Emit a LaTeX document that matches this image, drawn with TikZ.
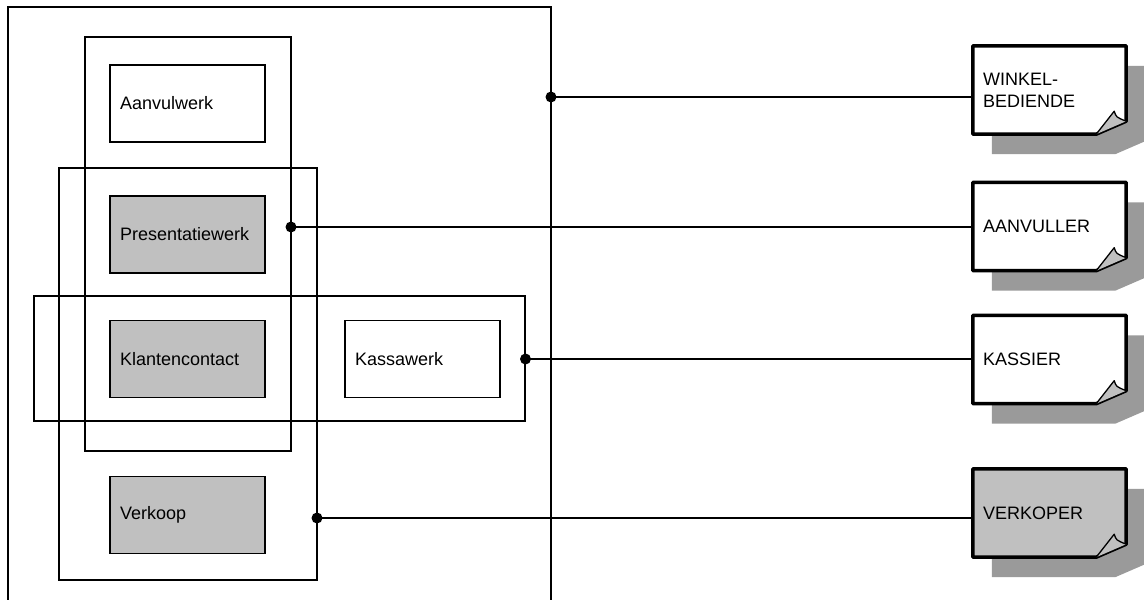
\documentclass[tikz,border=0pt]{standalone}
\usepackage{fontspec}
\setmainfont{Liberation Sans}
\usepackage{tikz}
\definecolor{taakgrijs}{HTML}{C0C0C0}
\definecolor{schaduw}{HTML}{9A9A9A}

\tikzset{
  taak/.style={draw, line width=1.3pt, minimum height=77pt, text width=135pt,
    inner xsep=10pt, align=left, font=\fontsize{18}{22}\selectfont},
  rol/.style={minimum height=88pt, text width=133pt, inner xsep=10pt,
    align=left, font=\fontsize{18}{22}\selectfont},
  groep/.style={draw, line width=1.3pt},
  lijn/.style={draw, line width=1.3pt}
}

\begin{document}
\begin{tikzpicture}[x=1pt,y=-1pt]
\useasboundingbox (0,0) rectangle (1144,600);

% groepen
\draw[groep] (8,602) -- (8,7) -- (551,7) -- (551,602);
\draw[groep] (85,37) rectangle (291,451);
\draw[groep] (59,168) rectangle (317,580);
\draw[groep] (34,296) rectangle (525,421);

% taken
\node[taak] (aanvul) at (187.5,103.5) {Aanvulwerk};
\node[taak,fill=taakgrijs] (presentatie) at (187.5,234.5) {Presentatiewerk};
\node[taak,fill=taakgrijs] (klant) at (187.5,359) {Klantencontact};
\node[taak] (kassa) at (422.5,359) {Kassawerk};
\node[taak,fill=taakgrijs] (verkoop) at (187.5,515) {Verkoop};

% rollen
\node[rol] (winkel) at (1049.5,90) {};
\node[rol] (aanvuller) at (1049.5,226.5) {};
\node[rol] (kassier) at (1049.5,359.5) {};
\node[rol] (verkoper) at (1049.5,513) {};

% schaduw
\foreach \n in {winkel,aanvuller,kassier,verkoper}
  \fill[schaduw,transform canvas={shift={(19pt,-20pt)}}] (\n.north west) -- (\n.north east)
    -- ([yshift=13pt]\n.south east) -- ([xshift=-30pt]\n.south east)
    -- (\n.south west) -- cycle;

% notitie
\foreach \n/\kl in {winkel/white,aanvuller/white,kassier/white,verkoper/taakgrijs}{
  \draw[line width=3.5pt,fill=\kl,line join=round] (\n.north west) -- (\n.north east)
    -- ([yshift=13pt]\n.south east) -- ([xshift=-30pt]\n.south east)
    -- (\n.south west) -- cycle;
  \draw[line width=1.3pt,fill=taakgrijs,line join=round] ([xshift=-30pt]\n.south east)
    -- ([xshift=-12pt,yshift=23pt]\n.south east)
    .. controls ([xshift=-10pt,yshift=17pt]\n.south east) .. ([yshift=13pt]\n.south east);
}
\node[rol] at (winkel) {WINKEL-\\BEDIENDE};
\node[rol] at (aanvuller) {AANVULLER};
\node[rol] at (kassier) {KASSIER};
\node[rol] at (verkoper) {VERKOPER};

% verbindingen
\coordinate (pWinkel) at (551,97);
\coordinate (pAanvuller) at (291,227);
\coordinate (pKassier) at (525.5,359);
\coordinate (pVerkoper) at (317,518);
\draw[lijn] (pWinkel) -- (pWinkel -| winkel.west);
\draw[lijn] (pAanvuller) -- (pAanvuller -| aanvuller.west);
\draw[lijn] (pKassier) -- (pKassier -| kassier.west);
\draw[lijn] (pVerkoper) -- (pVerkoper -| verkoper.west);
\foreach \p in {pWinkel,pAanvuller,pKassier,pVerkoper}
  \fill (\p) circle (5.5pt);
\end{tikzpicture}
\end{document}
